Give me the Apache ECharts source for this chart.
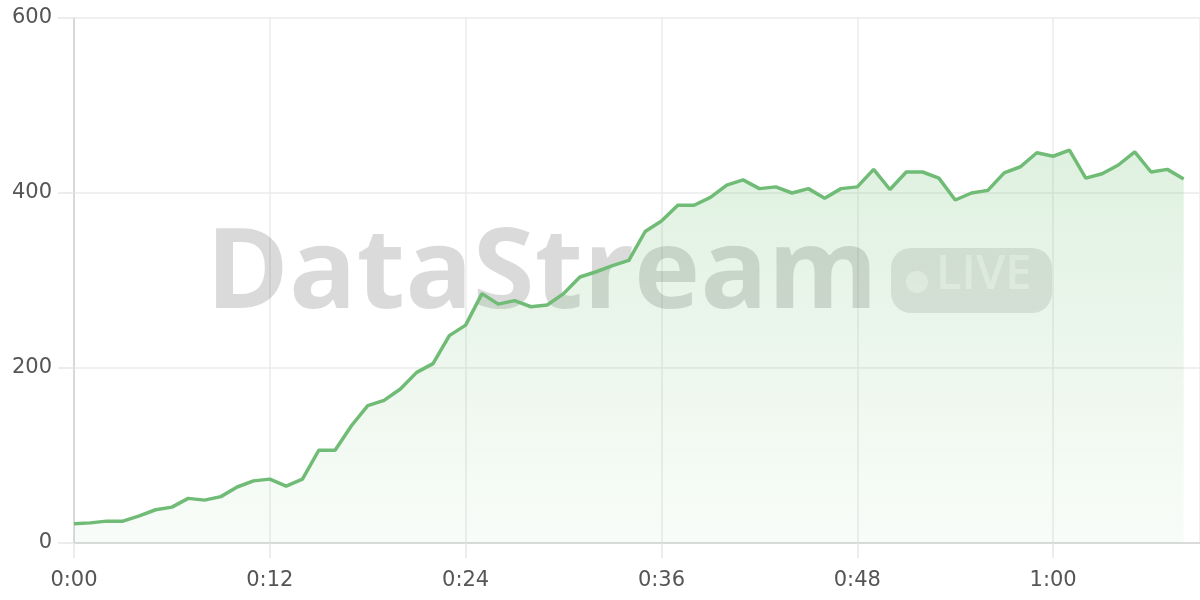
<!DOCTYPE html>
<html>
<head>
<meta charset="utf-8">
<script src="https://cdn.jsdelivr.net/npm/echarts@6/dist/echarts.min.js"></script>
<style>
html,body{margin:0;padding:0;background:#fff;}
#chart{width:1200px;height:600px;}
</style>
</head>
<body>
<div id="chart"></div>
<script>
// elapsed seconds (one sample per second)
const seconds = [0,1,2,3,4,5,6,7,8,9,10,11,12,13,14,15,16,17,18,19,20,21,22,23,24,25,26,27,28,29,30,31,32,33,34,35,36,37,38,39,40,41,42,43,44,45,46,47,48,49,50,51,52,53,54,55,56,57,58,59,60,61,62,63,64,65,66,67,68];
const values = [22,23,25,25,31,38,41,51,49,53,64,71,73,65,73,106,106,134,157,163,176,195,205,237,249,285,273,277,270,272,285,304,310,317,323,356,368,386,386,395,409,415,405,407,400,405,394,405,407,427,404,424,424,417,392,400,403,423,430,446,442,449,417,422,432,447,424,427,416];
const xTickSeconds = [0,12,24,36,48,60];
const yTicks = [0,200,400,600];
const watermarkText = 'DataStream';
const badgeText = 'LIVE';

const chart = echarts.init(document.getElementById('chart'), null, {renderer:'canvas'});

function fmt(s){
  const m = Math.floor(s/60), r = Math.round(s%60);
  return m + ':' + (r<10?'0':'') + r;
}

const labelFont = 'DejaVu Sans';
const option = {
  animation: false,
  grid: {left:74, right:0, top:18, bottom:57, outerBoundsMode:'none'},
  xAxis: {
    type:'value', min:0, max:69, interval:12,
    axisLine:{show:true, lineStyle:{color:'#d2d2d2', width:1.5}},
    axisTick:{show:true, length:15, lineStyle:{color:'#e6e6e6', width:1.5}},
    splitLine:{show:true, lineStyle:{color:'#ebebeb', width:1.5}},
    axisLabel:{
      margin:27, color:'#555', fontSize:21, fontFamily:labelFont,
      showMaxLabel:false,
      formatter:(v)=> xTickSeconds.includes(v) ? fmt(v) : ''
    }
  },
  yAxis: {
    type:'value', min:yTicks[0], max:yTicks[yTicks.length-1], interval:200,
    axisLine:{show:true, lineStyle:{color:'#d2d2d2', width:1.5}},
    axisTick:{show:true, length:16, lineStyle:{color:'#e6e6e6', width:1.5}},
    splitLine:{show:true, lineStyle:{color:'#ebebeb', width:1.5}},
    axisLabel:{margin:22, color:'#555', fontSize:21, fontFamily:labelFont}
  },
  graphic: [
    {
      type:'text', z:1, left:206, top:220,
      style:{text:watermarkText, font:'bold 112px "Open Sans"', fill:'rgba(0,0,0,0.145)'}
    },
    {
      type:'rect', z:1, shape:{x:891, y:248, width:161, height:65, r:20},
      style:{fill:'rgba(0,0,0,0.1)'}
    },
    {
      type:'circle', z:1, shape:{cx:917, cy:282, r:11},
      style:{fill:'rgba(255,255,255,0.5)'}
    },
    {
      type:'text', z:1, left:936, top:252,
      style:{text:badgeText, font:'600 47px "Open Sans"', fill:'rgba(255,255,255,0.5)'}
    }
  ],
  series: [{
    type:'line',
    data: values.map((v,i)=>[seconds[i], v]),
    symbol:'none',
    z:5,
    lineStyle:{color:'#70bc76', width:3.5},
    itemStyle:{color:'#70bc76'},
    areaStyle:{
      color:{type:'linear', x:0, y:0, x2:0, y2:1, colorStops:[
        {offset:0, color:'rgba(102,187,106,0.3)'},
        {offset:1, color:'rgba(102,187,106,0.06)'}
      ]}
    }
  }]
};
chart.setOption(option);
</script>
</body>
</html>
